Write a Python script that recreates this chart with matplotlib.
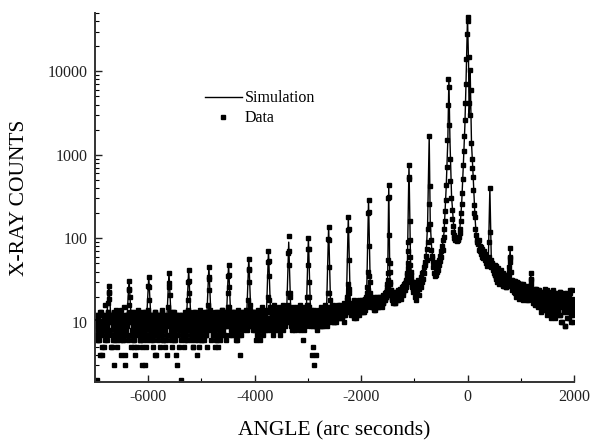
import numpy as np
import matplotlib
matplotlib.use("Agg")
import matplotlib.pyplot as plt
from matplotlib.lines import Line2D
from matplotlib.ticker import FixedLocator, NullFormatter

plt.rcParams['font.family'] = ['Liberation Serif', 'DejaVu Serif']
plt.rcParams['axes.unicode_minus'] = False

#-------------------------------------------- measured scan (arc sec, counts)
x_start, x_step = -7000, 10
data_y = [
    9, 12, 7, 10, 2, 8, 11, 6, 9, 13, 10, 7, 8, 12, 4, 9, 11, 10, 6, 8,
    10, 7, 11, 9, 13, 17, 27, 19, 12, 8, 10, 5, 11, 9, 7, 12, 3, 10, 8, 14,
    9, 6, 11, 8, 10, 13, 7, 9, 4, 12, 10, 8, 11, 6, 9, 15, 7, 10, 12, 8,
    11, 9, 12, 16, 31, 20, 12, 7, 10, 8, 13, 6, 9, 11, 5, 10, 8, 12, 7, 9,
    10, 14, 8, 11, 6, 9, 12, 7, 10, 3, 8, 11, 9, 13, 7, 10, 5, 12, 9, 11,
    14, 34, 18, 11, 8, 10, 7, 12, 9, 6, 11, 8, 10, 13, 4, 9, 12, 7, 10, 8,
    11, 9, 7, 12, 10, 8, 14, 6, 9, 11, 10, 5, 8, 12, 9, 7, 11, 10, 15, 38,
    21, 12, 9, 8, 11, 7, 10, 13, 6, 9, 12, 8, 10, 4, 11, 9, 7, 12, 10, 8,
    9, 11, 2, 10, 8, 12, 7, 9, 11, 6, 10, 8, 13, 9, 12, 18, 42, 22, 11, 8,
    10, 7, 12, 9, 11, 5, 8, 10, 13, 7, 9, 12, 8, 6, 11, 10, 9, 14, 7, 11,
    8, 10, 12, 9, 6, 11, 8, 10, 7, 13, 9, 11, 10, 16, 45, 24, 12, 8, 10, 9,
    11, 7, 10, 12, 8, 9, 5, 11, 10, 13, 7, 9, 12, 8, 10, 6, 11, 9, 14, 10,
    8, 12, 9, 11, 7, 10, 13, 9, 11, 15, 22, 48, 26, 13, 10, 8, 11, 12, 7, 9,
    10, 13, 8, 11, 9, 12, 6, 10, 14, 8, 11, 9, 12, 10, 7, 13, 9, 11, 8, 12,
    10, 12, 9, 14, 11, 8, 13, 10, 18, 57, 30, 14, 10, 12, 9, 11, 13, 8, 10, 12,
    11, 9, 13, 10, 12, 7, 11, 14, 9, 12, 10, 13, 8, 11, 15, 10, 12, 9, 13, 11,
    12, 10, 14, 11, 13, 20, 70, 35, 15, 11, 13, 9, 12, 14, 10, 12, 16, 11, 13, 10,
    12, 14, 9, 11, 13, 10, 15, 12, 8, 13, 11, 14, 12, 10, 16, 13, 11, 12, 14, 13,
    13, 11, 15, 22, 106, 48, 20, 14, 12, 10, 13, 11, 15, 12, 9, 14, 12, 13, 11, 15,
    12, 14, 10, 13, 11, 16, 12, 9, 14, 12, 6, 13, 11, 15, 12, 10, 14, 13, 16, 20,
    48, 100, 30, 15, 12, 14, 11, 13, 10, 12, 5, 14, 11, 9, 13, 12, 4, 10, 13, 11,
    14, 12, 10, 13, 11, 15, 12, 9, 14, 13, 11, 12, 16, 13, 10, 14, 12, 15, 22, 138,
    45, 18, 14, 12, 15, 11, 13, 16, 12, 14, 10, 13, 15, 12, 14, 11, 16, 13, 12, 15,
    13, 16, 12, 14, 11, 15, 13, 17, 12, 14, 16, 13, 15, 18, 20, 28, 180, 55, 22, 16,
    14, 17, 13, 15, 12, 16, 14, 18, 13, 15, 11, 16, 14, 17, 15, 13, 18, 15, 16, 17,
    15, 18, 14, 17, 16, 13, 18, 16, 19, 17, 20, 22, 26, 40, 285, 80, 30, 22, 18, 16,
    19, 17, 15, 18, 16, 20, 14, 17, 19, 16, 18, 15, 19, 17, 20, 16, 18, 19, 17, 20,
    18, 21, 17, 19, 22, 18, 20, 23, 21, 26, 32, 55, 430, 110, 40, 28, 24, 21, 19, 22,
    20, 18, 21, 17, 22, 19, 23, 20, 18, 22, 24, 21, 19, 23, 25, 22, 24, 26, 23, 27,
    25, 28, 24, 27, 30, 28, 33, 38, 50, 90, 750, 160, 60, 40, 33, 30, 27, 25, 28, 24,
    26, 20, 30, 24, 18, 28, 22, 32, 25, 21, 30, 27, 34, 26, 38, 30, 40, 33, 45, 38,
    52, 48, 62, 55, 75, 90, 130, 260, 1680, 420, 150, 95, 72, 58, 62, 45, 52, 38, 46, 35,
    44, 36, 48, 40, 52, 42, 55, 48, 62, 54, 70, 60, 80, 72, 95, 105, 130, 160, 210, 290,
    430, 720, 1500, 4000, 8200, 6500, 2300, 900, 480, 300, 220, 170, 140, 120, 110, 102, 98, 96, 95, 97,
    95, 94, 96, 99, 105, 115, 130, 160, 200, 260, 350, 520, 750, 1100, 1700, 2600, 4200, 7000, 14000, 28000,
    45000, 40000, 15000, 4200, 3000, 10500, 6000, 1400, 900, 700, 540, 380, 250, 200, 180, 130, 110, 95, 90, 85,
    88, 72, 95, 70, 82, 65, 78, 60, 74, 66, 58, 70, 55, 64, 50, 60, 47, 56, 52, 48,
    60, 90, 400, 120, 55, 45, 50, 42, 48, 38, 44, 40, 36, 46, 34, 41, 37, 32, 39, 35,
    38, 30, 36, 33, 28, 35, 31, 34, 27, 32, 29, 36, 26, 31, 33, 28, 30, 34, 40, 52,
    76, 40, 30, 27, 32, 25, 29, 24, 31, 26, 22, 28, 25, 30, 23, 27, 21, 26, 24, 28,
    22, 26, 20, 25, 23, 28, 19, 24, 21, 27, 22, 18, 25, 23, 20, 26, 22, 24, 27, 38,
    28, 22, 19, 24, 21, 17, 23, 20, 25, 18, 22, 16, 21, 24, 19, 23, 15, 20, 22, 18,
    21, 17, 23, 19, 14, 20, 22, 16, 19, 24, 18, 13, 21, 17, 20, 15, 22, 18, 12, 19,
    16, 20, 14, 22, 18, 11, 19, 15, 21, 17, 13, 20, 16, 23, 12, 18, 15, 21, 10, 17,
    19, 14, 21, 16, 9, 18, 13, 22, 15, 17, 11, 20, 14, 24, 16, 12, 19, 15, 10, 18,
    16,
]
data_x = x_start + x_step * np.arange(len(data_y))

# in-between points of the scan, left part (-6995 ... -1005)
left_start = -6995
data_y_left = [
    9, 11, 7, 10, 6, 12, 6, 9, 4, 8, 13, 7, 10, 5, 12, 8, 11, 5, 16, 10,
    8, 12, 6, 11, 13, 22, 23, 12, 7, 11, 5, 10, 12, 6, 11, 9, 13, 6, 10, 7,
    11, 5, 12, 7, 10, 13, 6, 11, 9, 14, 7, 8, 12, 6, 9, 4, 3, 10, 7, 12,
    10, 6, 12, 24, 25, 13, 7, 11, 5, 10, 12, 7, 11, 6, 13, 4, 10, 8, 12, 5,
    11, 7, 10, 12, 6, 7, 11, 13, 5, 10, 6, 12, 9, 3, 8, 10, 13, 7, 6, 11,
    27, 26, 12, 7, 11, 6, 10, 12, 5, 9, 11, 7, 13, 4, 7, 9, 12, 6, 11, 10,
    9, 12, 5, 10, 11, 7, 13, 6, 10, 12, 8, 11, 6, 9, 4, 10, 7, 11, 26, 29,
    13, 10, 6, 12, 9, 5, 7, 10, 13, 6, 11, 7, 12, 10, 3, 9, 11, 5, 12, 10,
    8, 11, 6, 12, 10, 7, 11, 5, 13, 8, 7, 12, 6, 11, 14, 30, 31, 13, 10, 6,
    12, 7, 10, 11, 5, 13, 7, 10, 6, 8, 11, 4, 10, 12, 5, 11, 7, 13, 6, 10,
    11, 6, 12, 8, 10, 13, 7, 11, 7, 10, 5, 8, 12, 33, 34, 14, 10, 6, 12, 11,
    9, 12, 7, 8, 11, 13, 6, 10, 12, 6, 11, 5, 13, 10, 8, 12, 7, 9, 14, 10,
    12, 7, 11, 10, 13, 6, 11, 9, 12, 14, 35, 36, 15, 10, 7, 9, 11, 13, 8, 10,
    11, 13, 7, 12, 10, 6, 12, 11, 9, 13, 7, 12, 4, 11, 9, 12, 10, 13, 11, 9,
    12, 10, 13, 9, 11, 12, 10, 14, 42, 43, 16, 11, 12, 9, 13, 10, 12, 11, 9, 13,
    10, 8, 6, 11, 9, 7, 10, 8, 12, 9, 6, 10, 8, 11, 9, 7, 10, 12, 8, 9,
    9, 11, 8, 10, 14, 52, 54, 18, 9, 11, 8, 10, 12, 9, 7, 11, 10, 8, 12, 9,
    11, 9, 12, 8, 10, 13, 9, 11, 7, 10, 12, 9, 11, 8, 13, 10, 9, 12, 10, 11,
    10, 12, 16, 66, 70, 22, 11, 9, 12, 10, 8, 11, 13, 9, 10, 12, 8, 11, 9, 10,
    12, 9, 11, 13, 10, 8, 12, 10, 11, 9, 13, 10, 12, 8, 11, 9, 13, 10, 12, 16,
    75, 74, 20, 11, 9, 12, 10, 4, 13, 9, 11, 3, 10, 12, 9, 11, 8, 12, 10, 9,
    11, 13, 9, 12, 10, 14, 11, 9, 13, 10, 12, 11, 14, 10, 12, 9, 13, 11, 98, 95,
    22, 12, 14, 10, 13, 11, 15, 12, 10, 14, 12, 11, 13, 10, 15, 12, 11, 14, 13, 12,
    12, 14, 11, 13, 15, 12, 14, 10, 13, 15, 12, 14, 13, 16, 18, 125, 130, 25, 15, 13,
    15, 12, 14, 16, 13, 15, 11, 14, 16, 13, 15, 12, 17, 14, 13, 16, 12, 15, 14, 13,
    16, 14, 17, 13, 15, 18, 14, 16, 19, 15, 17, 20, 24, 200, 205, 35, 20, 16, 18, 15,
    17, 15, 18, 16, 14, 19, 17, 15, 18, 20, 16, 17, 15, 19, 16, 18, 17, 20, 15, 18,
    19, 17, 20, 18, 21, 19, 22, 20, 24, 28, 38, 300, 310, 50, 30, 24, 21, 18, 20, 17,
    19, 22, 18, 21, 17, 20, 23, 19, 21, 18, 22, 20, 24, 21, 19, 23, 22, 25, 21, 24,
    26, 24, 29, 26, 32, 30, 36, 44, 70, 520, 540, 95, 48, 36, 31, 28, 26, 23, 27, 25,
]
data_x_left = left_start + x_step * np.arange(len(data_y_left))

# in-between points of the scan, right part (505 ... 1995)
right_start = 505
data_y_right = [
    42, 36, 48, 33, 39, 30, 44, 35, 28, 40, 33, 37, 29, 42, 31, 35, 27, 38, 30, 34,
    29, 33, 26, 36, 31, 28, 34, 37, 45, 60, 58, 32, 27, 24, 30, 26, 23, 28, 25, 31,
    24, 20, 27, 23, 29, 21, 25, 19, 26, 22, 28, 24, 20, 26, 18, 23, 27, 21, 25, 19,
    23, 20, 26, 18, 24, 21, 27, 25, 32, 33, 22, 19, 24, 17, 22, 20, 25, 16, 21, 23,
    18, 22, 15, 20, 24, 17, 21, 13, 19, 23, 16, 20, 14, 22, 18, 25, 15, 19, 12, 21,
    17, 20, 14, 23, 16, 19, 11, 21, 15, 18, 24, 13, 20, 16, 22, 12, 19, 15, 21, 17,
    14, 20, 16, 23, 12, 18, 10, 21, 15, 19, 13, 22, 17, 9, 20, 14, 18, 11, 21, 16,
    19, 13, 22, 15, 10, 18, 24, 14, 17, 12,
]
data_x_right = right_start + x_step * np.arange(len(data_y_right))

#-------------------------------------------- simulation curve (vertices)
sim_x = [-7000,
         -6780, -6740, -6700, -6400, -6360, -6320, -6030, -5990, -5950,
         -5650, -5610, -5570, -5280, -5240, -5200, -4900, -4860, -4820,
         -4530, -4490, -4450, -4150, -4110, -4070, -3780, -3740, -3700,
         -3400, -3360, -3320, -3030, -2990, -2950, -2650, -2610, -2570,
         -2280, -2240, -2200, -1900, -1860, -1820, -1670,
         -1530, -1500, -1480, -1460, -1430, -1290,
         -1160, -1130, -1100, -1070, -1040, -950,
         -850, -780, -750, -720, -700, -670, -620, -574,
         -500, -440, -400, -370, -350, -330, -300, -260, -220, -180,
         -140, -110, -80, -50, -30, 0, 20, 30, 40, 50, 65, 75, 107, 140, 170, 265, 360,
         390, 420, 450, 550, 735, 770, 800, 830, 923, 1160, 1190, 1220, 1360, 2000]
sim_y = [10.5,
         10.8, 28, 10.8, 10.8, 32, 10.8, 10.9, 35, 10.9,
         11, 39, 11, 11.1, 42, 11.1, 11.2, 46, 11.2,
         11.4, 49, 11.4, 11.6, 59, 11.6, 11.9, 72, 11.9,
         12.3, 90, 12.3, 12.7, 101, 12.7, 13.2, 140, 13.2,
         14, 182, 14, 15.5, 287, 15.5, 16,
         19, 35, 435, 35, 19, 19,
         26, 50, 755, 50, 28, 24,
         32, 60, 150, 1680, 150, 70, 48, 42,
         55, 120, 420, 1500, 8240, 1500, 320, 140, 105, 95,
         140, 260, 720, 2200, 6600, 45000, 12000, 3000, 4000, 10570, 3000, 1380, 540, 182, 95, 60, 50,
         50, 404, 45, 38, 27, 27, 76, 25, 22, 20, 38, 19, 18, 15]

#--------------------------------------------- plot
fig = plt.figure(figsize=(5.92, 4.41), dpi=100)
ax = fig.add_axes([0.1605, 0.1338, 0.809, 0.8367])

ax.plot(sim_x, sim_y, color="black", lw=1.0, zorder=3)
for xs, ys in [(data_x, data_y), (data_x_left, data_y_left), (data_x_right, data_y_right)]:
    ax.plot(xs, ys, ls="none", marker="s", ms=2.3, mfc="black", mec="black", zorder=2)

ax.set_yscale("log")
ax.set_xlim(-7000, 2000)
ax.set_ylim(1.9, 50000)

for s in ["top", "right"]:
    ax.spines[s].set_visible(False)
for s in ["left", "bottom"]:
    ax.spines[s].set_linewidth(1.4)
    ax.spines[s].set_color("#333333")

ax.set_xticks([-6000, -4000, -2000, 0, 2000])
ax.xaxis.set_minor_locator(FixedLocator([-7000, -5000, -3000, -1000, 1000]))
ax.set_yticks([10, 100, 1000, 10000])
ax.set_yticklabels(["10", "100", "1000", "10000"])
ax.yaxis.set_minor_formatter(NullFormatter())
ax.tick_params(axis="both", which="major", direction="in", length=5, width=1.0,
               labelsize=11.5, colors="#222222", pad=5)
ax.tick_params(axis="both", which="minor", direction="in", length=3, width=0.8)

ax.set_xlabel("ANGLE (arc seconds)", fontsize=15.5, labelpad=11.5)
ax.set_ylabel("X-RAY COUNTS", fontsize=15.5, labelpad=14)

handles = [Line2D([], [], color="black", lw=1.0),
           Line2D([], [], ls="none", marker="s", ms=2.6, color="black")]
ax.legend(handles, ["Simulation", "Data"], loc="upper left", bbox_to_anchor=(0.2296, 0.79),
          frameon=False, fontsize=11.5, handlelength=2.3, handletextpad=0.2,
          borderpad=0, borderaxespad=0, labelspacing=0.25)

plt.savefig("out.png", dpi=100)
